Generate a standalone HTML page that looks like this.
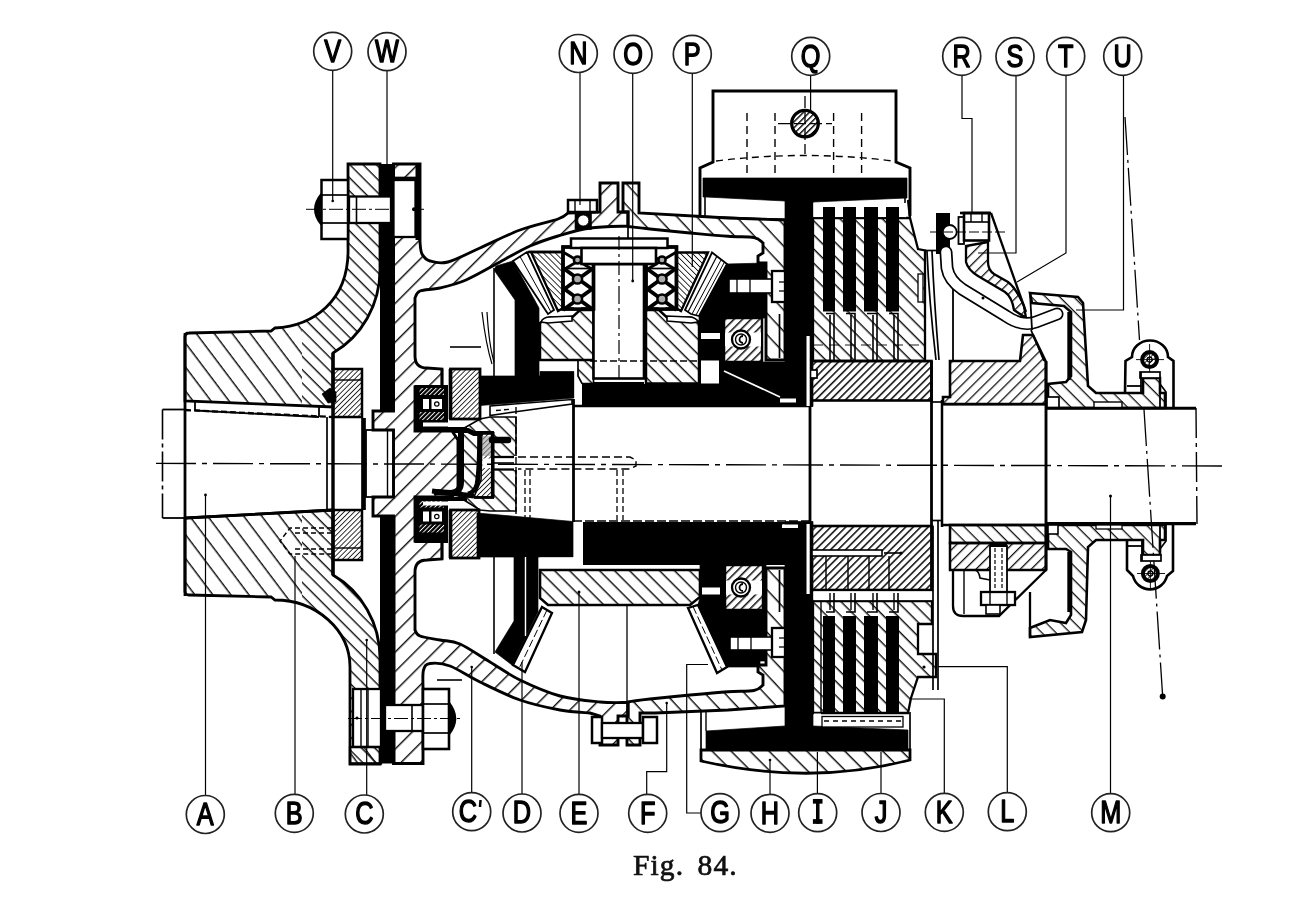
<!DOCTYPE html>
<html><head><meta charset="utf-8"><title>Fig. 84</title>
<style>
html,body{margin:0;padding:0;background:#fff;}
body{width:1290px;height:900px;overflow:hidden;font-family:"Liberation Sans",sans-serif;}
svg{display:block;filter:blur(0.6px);}
.lb{font-family:"Liberation Sans",sans-serif;font-weight:normal;font-size:32px;text-anchor:middle;fill:#000;stroke:#000;stroke-width:1.5px;stroke-linejoin:round;}
.cap{font-family:"Liberation Serif",serif;font-weight:normal;font-size:29.5px;fill:#111;stroke:#111;stroke-width:0.7px;letter-spacing:1.1px;}
</style></head><body>
<svg width="1290" height="900" viewBox="0 0 1290 900">
<defs><pattern id="hA" patternUnits="userSpaceOnUse" width="14.4" height="14.4" patternTransform="rotate(53)"><line x1="0" y1="0" x2="14.4" y2="0" stroke="#111" stroke-width="2.9"/></pattern><pattern id="hC" patternUnits="userSpaceOnUse" width="13.7" height="13.7" patternTransform="rotate(-45)"><line x1="0" y1="0" x2="13.7" y2="0" stroke="#111" stroke-width="2.9"/></pattern><pattern id="hF" patternUnits="userSpaceOnUse" width="14.5" height="14.5" patternTransform="rotate(47)"><line x1="0" y1="0" x2="14.5" y2="0" stroke="#111" stroke-width="2.9"/></pattern><pattern id="hf" patternUnits="userSpaceOnUse" width="3.6" height="3.6" patternTransform="rotate(-45)"><line x1="0" y1="0" x2="3.6" y2="0" stroke="#111" stroke-width="1.7"/></pattern><pattern id="hg" patternUnits="userSpaceOnUse" width="4.2" height="4.2" patternTransform="rotate(45)"><line x1="0" y1="0" x2="4.2" y2="0" stroke="#111" stroke-width="1.7"/></pattern><pattern id="hP" patternUnits="userSpaceOnUse" width="10" height="10" patternTransform="rotate(45)"><line x1="0" y1="0" x2="10" y2="0" stroke="#111" stroke-width="2.9"/></pattern><pattern id="hI" patternUnits="userSpaceOnUse" width="5.3" height="5.3" patternTransform="rotate(-45)"><line x1="0" y1="0" x2="5.3" y2="0" stroke="#111" stroke-width="3.1"/></pattern><pattern id="hE" patternUnits="userSpaceOnUse" width="10.6" height="10.6" patternTransform="rotate(45)"><line x1="0" y1="0" x2="10.6" y2="0" stroke="#111" stroke-width="2.9"/></pattern><pattern id="hH" patternUnits="userSpaceOnUse" width="13.4" height="13.4" patternTransform="rotate(45)"><line x1="0" y1="0" x2="13.4" y2="0" stroke="#111" stroke-width="2.9"/></pattern><pattern id="hU" patternUnits="userSpaceOnUse" width="10" height="10" patternTransform="rotate(45)"><line x1="0" y1="0" x2="10" y2="0" stroke="#111" stroke-width="2.6"/></pattern><pattern id="hR" patternUnits="userSpaceOnUse" width="7.8" height="7.8" patternTransform="rotate(-45)"><line x1="0" y1="0" x2="7.8" y2="0" stroke="#111" stroke-width="2.6"/></pattern><pattern id="hfw" patternUnits="userSpaceOnUse" width="3.2" height="3.2" patternTransform="rotate(-45)"><line x1="0" y1="0" x2="3.2" y2="0" stroke="#fff" stroke-width="1.9"/></pattern><pattern id="hgd" patternUnits="userSpaceOnUse" width="3.4" height="3.4" patternTransform="rotate(45)"><line x1="0" y1="0" x2="3.4" y2="0" stroke="#111" stroke-width="2.6"/></pattern><pattern id="hIb" patternUnits="userSpaceOnUse" width="6" height="6" patternTransform="rotate(-45)"><line x1="0" y1="0" x2="6" y2="0" stroke="#111" stroke-width="3.1"/></pattern><pattern id="hgx" patternUnits="userSpaceOnUse" width="3.4" height="3.4" patternTransform="rotate(-45)"><line x1="0" y1="0" x2="3.4" y2="0" stroke="#111" stroke-width="1.4"/></pattern><pattern id="hQ" patternUnits="userSpaceOnUse" width="4.2" height="4.2" patternTransform="rotate(-45)"><line x1="0" y1="0" x2="4.2" y2="0" stroke="#111" stroke-width="2.9"/></pattern><pattern id="hA2" patternUnits="userSpaceOnUse" width="9.4" height="9.4" patternTransform="rotate(45)"><line x1="0" y1="0" x2="9.4" y2="0" stroke="#111" stroke-width="2.8"/></pattern></defs>
<rect width="1290" height="900" fill="#fff"/>
<clipPath id="cpB"><rect x="150" y="300" width="152" height="320"/></clipPath>
<clipPath id="cpF"><path d="M302,300 H400 V620 H302 Z M300,150 H400 V300 H300 Z M300,620 H400 V780 H300 Z"/></clipPath>
<path d="M185,401 L185,337 Q185,333 189,333 L271,331 L275,328 C312,326 350,302 348,246 L348,164 L380,164 L380,270 A90,95 0 0 1 333,353 L333,407 Z" fill="url(#hA)" clip-path="url(#cpB)"/>
<path d="M185,401 L185,337 Q185,333 189,333 L271,331 L275,328 C312,326 350,302 348,246 L348,164 L380,164 L380,270 A90,95 0 0 1 333,353 L333,407 Z" fill="url(#hA2)" clip-path="url(#cpF)"/>
<path d="M185,401 L185,337 Q185,333 189,333 L271,331 L275,328 C312,326 350,302 348,246 L348,164 L380,164 L380,270 A90,95 0 0 1 333,353 L333,407 Z" fill="none" stroke="#000" stroke-width="2.8" />
<path d="M185,518 L185,591 Q185,595 189,595 L271,597 L275,600 A75,67 0 0 1 350,667 L350,764 L380,764 L380,658 A90,95 0 0 0 333,575 L333,510 Z" fill="url(#hA)" clip-path="url(#cpB)"/>
<path d="M185,518 L185,591 Q185,595 189,595 L271,597 L275,600 A75,67 0 0 1 350,667 L350,764 L380,764 L380,658 A90,95 0 0 0 333,575 L333,510 Z" fill="url(#hA2)" clip-path="url(#cpF)"/>
<path d="M185,518 L185,591 Q185,595 189,595 L271,597 L275,600 A75,67 0 0 1 350,667 L350,764 L380,764 L380,658 A90,95 0 0 0 333,575 L333,510 Z" fill="none" stroke="#000" stroke-width="2.8" />
<rect x="380" y="164" width="15" height="247" fill="#000"/>
<rect x="380" y="516" width="15.5" height="247.5" fill="#000"/>
<line x1="162.5" y1="409.5" x2="162.5" y2="518" stroke="#000" stroke-width="1.6" stroke-dasharray="30 4 4 4"/>
<line x1="162.5" y1="409.5" x2="185" y2="409.5" stroke="#000" stroke-width="1.8" />
<line x1="162.5" y1="518" x2="185" y2="518" stroke="#000" stroke-width="1.8" />
<line x1="185" y1="333" x2="185" y2="596" stroke="#000" stroke-width="2.8" />
<line x1="185" y1="410" x2="332" y2="417" stroke="#000" stroke-width="2.3" stroke-dasharray="6 3"/>
<line x1="195" y1="410.5" x2="319" y2="417" stroke="#000" stroke-width="1.8" />
<line x1="195" y1="402" x2="195" y2="410.5" stroke="#000" stroke-width="1.8" />
<line x1="319" y1="407" x2="319" y2="417" stroke="#000" stroke-width="1.8" />
<line x1="185" y1="518" x2="333" y2="510" stroke="#000" stroke-width="2.8" />
<path d="M322,394 L330,388 L336,392 L336,402 L328,403 Z" fill="#000" stroke="#000" stroke-width="0.7" />
<rect x="333" y="369" width="29" height="48" fill="url(#hf)" stroke="#000" stroke-width="2.5" />
<line x1="333" y1="380" x2="362" y2="380" stroke="#000" stroke-width="1.4" />
<rect x="333" y="510" width="29" height="50" fill="url(#hf)" stroke="#000" stroke-width="2.5" />
<line x1="333" y1="548" x2="362" y2="548" stroke="#000" stroke-width="1.4" />
<line x1="333" y1="353" x2="333" y2="575" stroke="#000" stroke-width="3.4" />
<line x1="327" y1="417" x2="327" y2="510" stroke="#000" stroke-width="1.7" />
<line x1="363.5" y1="418" x2="363.5" y2="510" stroke="#000" stroke-width="4.7" />
<rect x="366" y="430" width="27.5" height="67" fill="#fff" stroke="#000" stroke-width="1.8" />
<line x1="387.5" y1="430" x2="387.5" y2="497" stroke="#000" stroke-width="1.4" />
<polyline points="332,528 290,528 280,541 290,554 332,554" fill="none" stroke="#000" stroke-width="1.4" stroke-dasharray="5 3"/>
<polyline points="332,533 292,533" fill="none" stroke="#000" stroke-width="1.3" stroke-dasharray="5 3"/>
<polyline points="332,549 292,549" fill="none" stroke="#000" stroke-width="1.3" stroke-dasharray="5 3"/>
<rect x="321.5" y="180" width="26.5" height="59" fill="#fff" stroke="#000" stroke-width="2.5" />
<line x1="321.5" y1="195" x2="348" y2="195" stroke="#000" stroke-width="1.7" />
<line x1="321.5" y1="223" x2="348" y2="223" stroke="#000" stroke-width="1.7" />
<path d="M321.5,194 Q309,209.3 321.5,224.5 Q317.5,209.3 321.5,194 Z" fill="#000" stroke="#000" stroke-width="2.5" />
<rect x="349" y="196.5" width="42" height="26.5" fill="#fff" stroke="#000" stroke-width="2.3" />
<line x1="356.5" y1="196.5" x2="356.5" y2="223" stroke="#000" stroke-width="1.6" />
<line x1="306" y1="209.3" x2="424" y2="209.3" stroke="#000" stroke-width="1" stroke-dasharray="14 3 3 3"/>
<rect x="353" y="689" width="28" height="58" fill="#fff" stroke="#000" stroke-width="2.3" />
<line x1="361" y1="689" x2="361" y2="747" stroke="#000" stroke-width="1.4" />
<line x1="368" y1="689" x2="368" y2="747" stroke="#000" stroke-width="1.4" />
<rect x="350" y="747" width="31" height="16.5" fill="url(#hA)" stroke="#000" stroke-width="2.3" />
<circle cx="357" cy="718" r="1.6" fill="#000" stroke="#000" stroke-width="0"/>
<path d="M393.5,164 L420,164 L420,242  C420.3,244 420.3,250.8 422,254 C423.7,257.2 425.7,259.7 430,261 C434.3,262.3 439.7,264.2 448,262 C456.3,259.8 468,253.3 480,248 C492,242.7 507,234.8 520,230 C533,225.2 550,221.8 558,219 C566,216.2 566.3,214 568,213 L600,212 L600,183 L618,183 L618,212 L628,212 L628,226  C621.7,226.3 601.7,226.3 590,228 C578.3,229.7 568,233 558,236 C548,239 539.7,241.7 530,246 C520.3,250.3 510.7,256.3 500,262 C489.3,267.7 476,275.7 466,280 C456,284.3 447.7,286.2 440,288 C432.3,289.8 424.2,289.3 420,291 C415.8,292.7 415.8,296.8 415,298 L415,356 Q415,368 427,368 L442,369 L442,387 L415,387 L415,431 L452,431 L458,440 L458,488 L452,497 L415,497 L415,541 L442,541 L442,559 L427,560 Q415,560 415,572 L415,630  C415.8,631 415.8,634.3 420,636 C424.2,637.7 433.3,638.7 440,640 C446.7,641.3 451.7,640.3 460,644 C468.3,647.7 480,656 490,662 C500,668 508.3,674.3 520,680 C531.7,685.7 546.7,692.3 560,696 C573.3,699.7 588.7,700.9 600,702 C611.3,703.1 623.3,702.4 628,702.5 L628,716 L618,716 L618,745 L600,745 L600,716  L590,713 C585,712.5 571.7,712.2 560,710 C548.3,707.8 533.3,704.7 520,700 C506.7,695.3 491.7,687.7 480,682 C468.3,676.3 458.3,669.1 450,666 C441.7,662.9 434.4,662.8 430,663.5 C425.6,664.2 424.7,665.9 423.5,670 C422.3,674.1 423.1,685 423,688 L423,690 L423,763.5 L393.5,763.5 L393.5,516 L373,516 L373,497 L393.5,497 L393.5,430 L373,430 L373,411 L393.5,411 Z" fill="url(#hC)" stroke="#000" stroke-width="2.9" />
<rect x="393.5" y="180" width="22" height="57" fill="#fff" stroke="#000" stroke-width="2.3" />
<line x1="417.5" y1="164" x2="417.5" y2="240" stroke="#000" stroke-width="4" />
<line x1="393.5" y1="178.5" x2="417" y2="178.5" stroke="#000" stroke-width="3.7" />
<circle cx="414" cy="209.3" r="2" fill="#000" stroke="#000" stroke-width="0"/>
<rect x="385" y="705" width="38" height="26" fill="#fff" stroke="#000" stroke-width="2.3" />
<line x1="412" y1="705" x2="412" y2="731" stroke="#000" stroke-width="1.6" />
<line x1="393.5" y1="731" x2="423" y2="731" stroke="#000" stroke-width="1.7" />
<rect x="423" y="689" width="26" height="60" fill="#fff" stroke="#000" stroke-width="2.6" />
<line x1="423" y1="704" x2="449" y2="704" stroke="#000" stroke-width="1.7" />
<line x1="423" y1="733" x2="449" y2="733" stroke="#000" stroke-width="1.7" />
<path d="M449,703 Q461,718.5 449,734 Q453,718.5 449,703 Z" fill="#000" stroke="#000" stroke-width="2.5" />
<line x1="348" y1="718.5" x2="462" y2="718.5" stroke="#000" stroke-width="1" stroke-dasharray="14 3 3 3"/>
<path d="M623,183 L639,183 L639,213 L728,218 L785,220 L785,360 L766,360 L766,263 L758,263 L758,256 L763,253 L763,243  C761.5,242.1 759.8,238.6 754,237.5 C748.2,236.4 738.7,237.1 728,236.3 C717.3,235.6 703,234.2 690,233 C677,231.8 660.3,230.1 650,229 C639.7,227.9 631.7,226.9 628,226.5 L628,212 L623,212 Z" fill="url(#hF)" stroke="#000" stroke-width="2.9" />
<path d="M628,716 L628,702  C631.7,701.1 639.7,700.1 650,699 C660.3,697.9 677,696.2 690,695 C703,693.8 717.3,692.5 728,691.7 C738.7,691 748.2,691.6 754,690.5 C759.8,689.4 761.5,685.9 763,685 L763,675 L758,672 L758,665 L766,665 L766,568 L785,568 L785,706 L728,710 L655,713 L640,713 L640,745 L627,745 L627,716 Z" fill="url(#hF)" stroke="#000" stroke-width="2.9" />
<rect x="568" y="200" width="29" height="12" fill="#fff" stroke="#000" stroke-width="2.5" />
<line x1="575" y1="200" x2="575" y2="212" stroke="#000" stroke-width="1.4" />
<line x1="590" y1="200" x2="590" y2="212" stroke="#000" stroke-width="1.4" />
<rect x="575.5" y="213" width="15.5" height="16" fill="#000" stroke="#000" stroke-width="1.6" />
<circle cx="583.3" cy="220.5" r="5.6" fill="#fff" stroke="#000" stroke-width="1"/>
<line x1="628" y1="226" x2="628" y2="239" stroke="#000" stroke-width="1.7" />
<rect x="592" y="717" width="10" height="26" fill="#fff" stroke="#000" stroke-width="2.5" />
<rect x="602" y="723" width="41" height="15" fill="#fff" stroke="#000" stroke-width="2.3" />
<rect x="643" y="717" width="14" height="26" fill="#fff" stroke="#000" stroke-width="2.5" />
<line x1="627" y1="606" x2="627" y2="714" stroke="#000" stroke-width="1.3" />
<line x1="437" y1="680" x2="462" y2="680" stroke="#000" stroke-width="1.6" />
<line x1="450" y1="347" x2="481" y2="347" stroke="#000" stroke-width="1.6" />
<rect x="414.5" y="385" width="33.5" height="45.5" fill="#000"/>
<rect x="419.5" y="388" width="24.5" height="7" fill="url(#hfw)"/>
<rect x="419.5" y="412" width="24.5" height="8" fill="url(#hfw)"/>
<rect x="423" y="399" width="6" height="10" fill="#fff"/>
<rect x="431.5" y="399" width="10.5" height="10" fill="#fff"/>
<circle cx="436.8" cy="404" r="2.2" fill="none" stroke="#000" stroke-width="1.2"/>
<rect x="414.5" y="497.5" width="33.5" height="45.5" fill="#000"/>
<rect x="419.5" y="500.5" width="24.5" height="7" fill="url(#hfw)"/>
<rect x="419.5" y="524.5" width="24.5" height="8" fill="url(#hfw)"/>
<rect x="423" y="511.5" width="6" height="10" fill="#fff"/>
<rect x="431.5" y="511.5" width="10.5" height="10" fill="#fff"/>
<circle cx="436.8" cy="516.5" r="2.2" fill="none" stroke="#000" stroke-width="1.2"/>
<rect x="414.5" y="427" width="52.5" height="4" fill="#000"/>
<rect x="414.5" y="497" width="52.5" height="4" fill="#000"/>
<rect x="423" y="422.5" width="36" height="4" fill="#fff"/>
<rect x="423" y="501.5" width="36" height="4" fill="#fff"/>
<line x1="442" y1="369" x2="442" y2="387" stroke="#000" stroke-width="2.5" />
<line x1="442" y1="541" x2="442" y2="559" stroke="#000" stroke-width="2.5" />
<rect x="450.5" y="369" width="29.5" height="50" fill="url(#hf)" stroke="#000" stroke-width="2.8" />
<line x1="450.5" y1="369" x2="450.5" y2="419" stroke="#000" stroke-width="3.7" />
<rect x="450.5" y="510" width="28.5" height="48" fill="url(#hf)" stroke="#000" stroke-width="2.8" />
<line x1="450.5" y1="510" x2="450.5" y2="558" stroke="#000" stroke-width="3.7" />
<polygon points="459,431 480,419 490,417 516,417 516,511 490,511 480,510 459,497" fill="url(#hE)" stroke="#000" stroke-width="1.6" />
<rect x="494" y="456" width="23" height="14" fill="#fff"/>
<path d="M461,431 L461,482 Q461,492 451,493 L434,492" fill="none" stroke="#000" stroke-width="6" />
<path d="M452,430.5 L468,430.5 L474,433.5 L494,433.5" fill="none" stroke="#000" stroke-width="5" />
<path d="M432,491 L474,496" fill="none" stroke="#000" stroke-width="5" />
<path d="M479.5,435 Q479.5,470 477,484 Q475,492 468,494" fill="none" stroke="#000" stroke-width="4.6" />
<polygon points="482,434 492.5,434 492.5,497 474,497 481,480" fill="#fff" stroke="#000" stroke-width="0.1" />
<polygon points="482,434 492.5,434 492.5,497 474,497 481,480" fill="url(#hf)" stroke="#000" stroke-width="1.6" />
<rect x="482" y="436" width="10" height="20" fill="#999" opacity="0.55"/>
<line x1="492.7" y1="432" x2="492.7" y2="498" stroke="#000" stroke-width="3.7" />
<line x1="474" y1="497.5" x2="494" y2="497.5" stroke="#000" stroke-width="2.8" />
<path d="M492,440 L508,440" fill="none" stroke="#000" stroke-width="6.5" stroke-linecap="round"/>
<rect x="482.5" y="458.5" width="8.5" height="9.5" fill="#fff"/>
<line x1="494" y1="457" x2="514" y2="457" stroke="#000" stroke-width="2.3" />
<line x1="494" y1="463" x2="514" y2="463" stroke="#000" stroke-width="1.6" />
<line x1="494" y1="469.5" x2="514" y2="469.5" stroke="#000" stroke-width="2.3" />
<polygon points="480,376 540,376 540,371.5 574,371.5 574,398 480,405.5" fill="#000" stroke="#000" stroke-width="0.7" />
<polygon points="494,270 496,266 513,261 539,308 539,376 515,376 515,300" fill="#000" stroke="#000" stroke-width="0.7" />
<line x1="494" y1="268" x2="494" y2="376" stroke="#000" stroke-width="1.6" />
<path d="M482,312 Q486,345 492,364" fill="none" stroke="#000" stroke-width="1.2" />
<path d="M487,312 Q489,345 494,362" fill="none" stroke="#000" stroke-width="1.2" />
<polygon points="490,406 514,404 572,399.5 572,404 514,412 490,415.5" fill="#fff" stroke="#000" stroke-width="1.6" />
<line x1="496" y1="410.5" x2="512" y2="409" stroke="#000" stroke-width="1.3" stroke-dasharray="5 3"/>
<rect x="574.5" y="371" width="7" height="34" fill="#fff"/>
<polygon points="477,513 573,521.5 573,557 477,557" fill="#000" stroke="#000" stroke-width="0.7" />
<polygon points="514,555 538,555 538,612 512,665 495,652 514,621" fill="#000" stroke="#000" stroke-width="0.7" />
<line x1="525.5" y1="557" x2="525.5" y2="640" stroke="#000" stroke-width="1.6" stroke="#fff"/>
<line x1="525.5" y1="557" x2="525.5" y2="636" stroke="#fff" stroke-width="1.4"/>
<line x1="494" y1="553" x2="494" y2="654" stroke="#000" stroke-width="1.6" />
<rect x="540" y="557.5" width="37" height="9.5" fill="#fff"/>
<rect x="575.5" y="523" width="7" height="40" fill="#fff"/>
<line x1="516" y1="407" x2="516" y2="521" stroke="#000" stroke-width="1.4" stroke-dasharray="7 3"/>
<line x1="573.5" y1="399" x2="573.5" y2="522" stroke="#000" stroke-width="2.8" />
<line x1="573" y1="406" x2="810" y2="406" stroke="#000" stroke-width="2.5" />
<line x1="573" y1="521" x2="810" y2="521" stroke="#000" stroke-width="1.7" stroke-dasharray="9 3"/>
<polyline points="518,457 630,457 636,460 636,466 630,469 518,469" fill="none" stroke="#000" stroke-width="1.4" stroke-dasharray="8 4"/>
<line x1="525" y1="470" x2="525" y2="520" stroke="#000" stroke-width="1.3" stroke-dasharray="6 3"/>
<line x1="530" y1="470" x2="530" y2="520" stroke="#000" stroke-width="1.3" stroke-dasharray="6 3"/>
<line x1="617" y1="470" x2="617" y2="520" stroke="#000" stroke-width="1.3" stroke-dasharray="6 3"/>
<line x1="623" y1="470" x2="623" y2="520" stroke="#000" stroke-width="1.3" stroke-dasharray="6 3"/>
<rect x="582" y="384" width="231" height="22.5" fill="#000"/>
<rect x="583" y="522" width="230" height="43" fill="#000"/>
<rect x="783" y="524.5" width="14" height="3.5" fill="#fff"/>
<polygon points="540,323 549,317.5 572,317.5 580,310 593.5,310 593.5,360 540,360" fill="url(#hE)" stroke="#000" stroke-width="2.5" />
<polygon points="578,360 593.5,360 593.5,383.5 582,383.5 578,376" fill="url(#hE)" stroke="#000" stroke-width="1.7" />
<polygon points="646,310 659,310 667,317.5 691,317.5 699,322 699,383.5 646,383.5" fill="url(#hE)" stroke="#000" stroke-width="2.5" />
<polygon points="540,570 700,570 700,597 690,605 548,605 540,598" fill="url(#hE)" stroke="#000" stroke-width="2.6" />
<rect x="593.5" y="264" width="50.5" height="114.5" fill="#fff" stroke="#000" stroke-width="2.6" />
<line x1="593.5" y1="383" x2="644" y2="383" stroke="#000" stroke-width="1.8" />
<line x1="619" y1="290" x2="619" y2="378" stroke="#000" stroke-width="1.2" stroke-dasharray="14 4 3 4"/>
<line x1="590" y1="361" x2="700" y2="361" stroke="#000" stroke-width="1.3" stroke-dasharray="7 3"/>
<rect x="563" y="247" width="30.5" height="62" fill="#fff" stroke="#000" stroke-width="3.4" />
<line x1="563" y1="268" x2="593.5" y2="290" stroke="#000" stroke-width="4" />
<line x1="563" y1="290" x2="593.5" y2="268" stroke="#000" stroke-width="4" />
<line x1="563" y1="288" x2="593.5" y2="310" stroke="#000" stroke-width="4" />
<line x1="563" y1="310" x2="593.5" y2="288" stroke="#000" stroke-width="4" />
<line x1="563" y1="252" x2="593.5" y2="270" stroke="#000" stroke-width="2.8" />
<line x1="563" y1="270" x2="593.5" y2="252" stroke="#000" stroke-width="2.8" />
<circle cx="577.5" cy="260" r="3.6" fill="#aaa" stroke="#000" stroke-width="2.5"/>
<circle cx="577.5" cy="279" r="4.6" fill="#aaa" stroke="#000" stroke-width="2.5"/>
<circle cx="577.5" cy="299" r="4.6" fill="#aaa" stroke="#000" stroke-width="2.5"/>
<rect x="574" y="286" width="7" height="6" fill="#fff"/>
<rect x="574" y="305" width="7" height="3" fill="#fff"/>
<line x1="563" y1="268.5" x2="593.5" y2="268.5" stroke="#000" stroke-width="1.7" />
<rect x="563" y="247" width="30.5" height="62" fill="none" stroke="#000" stroke-width="3.4" />
<rect x="646" y="247" width="30.5" height="62" fill="#fff" stroke="#000" stroke-width="3.4" />
<line x1="646" y1="268" x2="676.5" y2="290" stroke="#000" stroke-width="4" />
<line x1="646" y1="290" x2="676.5" y2="268" stroke="#000" stroke-width="4" />
<line x1="646" y1="288" x2="676.5" y2="310" stroke="#000" stroke-width="4" />
<line x1="646" y1="310" x2="676.5" y2="288" stroke="#000" stroke-width="4" />
<line x1="646" y1="252" x2="676.5" y2="270" stroke="#000" stroke-width="2.8" />
<line x1="646" y1="270" x2="676.5" y2="252" stroke="#000" stroke-width="2.8" />
<circle cx="662" cy="260" r="3.6" fill="#aaa" stroke="#000" stroke-width="2.5"/>
<circle cx="662" cy="279" r="4.6" fill="#aaa" stroke="#000" stroke-width="2.5"/>
<circle cx="662" cy="299" r="4.6" fill="#aaa" stroke="#000" stroke-width="2.5"/>
<rect x="658.5" y="286" width="7" height="6" fill="#fff"/>
<rect x="658.5" y="305" width="7" height="3" fill="#fff"/>
<line x1="646" y1="268.5" x2="676.5" y2="268.5" stroke="#000" stroke-width="1.7" />
<rect x="646" y="247" width="30.5" height="62" fill="none" stroke="#000" stroke-width="3.4" />
<rect x="571" y="238.5" width="96.5" height="9.5" fill="#fff" stroke="#000" stroke-width="2.5" />
<rect x="581.5" y="248" width="74.5" height="16" fill="#fff" stroke="#000" stroke-width="2.6" />
<line x1="619" y1="236" x2="619" y2="290" stroke="#000" stroke-width="1.2" stroke-dasharray="14 4 3 4"/>
<polygon points="531,252 563,252 563,308 558,311" fill="url(#hg)" stroke="#000" stroke-width="2.3" />
<polygon points="513,261 527,252 554,310 548,314" fill="#fff" stroke="#000" stroke-width="1.8" />
<line x1="520" y1="256.5" x2="551" y2="312" stroke="#000" stroke-width="1" />
<polygon points="708,252.5 676,252.5 676,308 681,311" fill="url(#hg)" stroke="#000" stroke-width="2.3" />
<polygon points="727,264 712,252.5 685,310 691,314 699,316" fill="#fff" stroke="#000" stroke-width="1.8" />
<line x1="717" y1="256" x2="688" y2="312" stroke="#000" stroke-width="1.2" />
<line x1="721" y1="260" x2="692" y2="314" stroke="#000" stroke-width="1" />
<line x1="724.5" y1="262" x2="696" y2="315" stroke="#000" stroke-width="1" />
<line x1="528" y1="252" x2="563" y2="252" stroke="#000" stroke-width="2.3" />
<path d="M541,322 Q543,317 550,317 L572,316 L572,321 L548,323 Z" fill="#fff" stroke="#000" stroke-width="1.6" />
<path d="M698,322 Q696,317 689,317 L667,316 L667,321 L691,323 Z" fill="#fff" stroke="#000" stroke-width="1.6" />
<polygon points="727,264 766,263 766,318 724,318 724,362 785,362 785,384 699,384 699,316" fill="#000" stroke="#000" stroke-width="0.7" />
<rect x="701" y="333" width="19" height="6" fill="#fff"/>
<rect x="701" y="360.5" width="18" height="23" fill="#fff"/>
<line x1="720" y1="344" x2="720" y2="384" stroke="#000" stroke-width="1.6" />
<rect x="729" y="279" width="43" height="14" fill="#fff" stroke="#000" stroke-width="1.6" />
<line x1="737" y1="279" x2="737" y2="293" stroke="#000" stroke-width="1.3" />
<line x1="750" y1="279" x2="750" y2="293" stroke="#000" stroke-width="1.3" />
<line x1="724" y1="371" x2="780" y2="397" stroke="#fff" stroke-width="1.6"/>
<rect x="724" y="318" width="38" height="44" fill="#fff"/>
<rect x="724" y="318" width="38" height="44" fill="url(#hIb)" stroke="#000" stroke-width="2.5" />
<rect x="725" y="332.5" width="36" height="14" fill="#fff"/>
<circle cx="741" cy="339.5" r="9" fill="#fff" stroke="#000" stroke-width="2.3"/>
<circle cx="741" cy="339.5" r="5.5" fill="none" stroke="#000" stroke-width="1.4"/>
<path d="M743,336 a3.5,3.5 0 0 0 0,7" fill="none" stroke="#000" stroke-width="1.8" />
<line x1="779.5" y1="314" x2="779.5" y2="358" stroke="#000" stroke-width="1.7" />
<rect x="772" y="271" width="13" height="31" fill="#fff" stroke="#000" stroke-width="2.3" />
<line x1="779" y1="282" x2="785" y2="282" stroke="#000" stroke-width="1.3" />
<line x1="779" y1="291" x2="785" y2="291" stroke="#000" stroke-width="1.3" />
<polygon points="542,607 552,613 525,672 513,665" fill="#fff" stroke="#000" stroke-width="2.3" />
<line x1="547" y1="610" x2="519" y2="668.5" stroke="#000" stroke-width="1" stroke-dasharray="8 3"/>
<polygon points="688,608 698,605 727,667 717,673" fill="#fff" stroke="#000" stroke-width="2.3" />
<line x1="693" y1="606.5" x2="722" y2="670" stroke="#000" stroke-width="1" stroke-dasharray="8 3"/>
<polygon points="700,565 766,565 766,661 760,661 760,667 727,667 698,605 700,597" fill="#000" stroke="#000" stroke-width="0.7" />
<rect x="702" y="587.5" width="18" height="7" fill="#fff"/>
<rect x="725" y="565" width="38" height="45" fill="#fff"/>
<rect x="725" y="565" width="38" height="45" fill="url(#hIb)" stroke="#000" stroke-width="2.5" />
<rect x="726" y="580.5" width="36" height="14" fill="#fff"/>
<circle cx="741" cy="587.5" r="9" fill="#fff" stroke="#000" stroke-width="2.3"/>
<circle cx="741" cy="587.5" r="5.5" fill="none" stroke="#000" stroke-width="1.4"/>
<path d="M743,584 a3.5,3.5 0 0 0 0,7" fill="none" stroke="#000" stroke-width="1.8" />
<rect x="730" y="637" width="43" height="13" fill="#fff" stroke="#000" stroke-width="1.6" />
<line x1="738" y1="637" x2="738" y2="650" stroke="#000" stroke-width="1.3" />
<line x1="751" y1="637" x2="751" y2="650" stroke="#000" stroke-width="1.3" />
<rect x="772" y="628" width="13" height="29" fill="#fff" stroke="#000" stroke-width="2.3" />
<line x1="779" y1="638" x2="785" y2="638" stroke="#000" stroke-width="1.3" />
<line x1="779" y1="647" x2="785" y2="647" stroke="#000" stroke-width="1.3" />
<line x1="779.5" y1="570" x2="779.5" y2="612" stroke="#000" stroke-width="1.7" />
<polyline points="700,216 700,168 713,162 713,91 896,91 896,162 910,168 910,216" fill="none" stroke="#000" stroke-width="2.9" />
<line x1="705" y1="178" x2="705" y2="216" stroke="#000" stroke-width="1.6" />
<line x1="905" y1="178" x2="905" y2="216" stroke="#000" stroke-width="1.6" />
<path d="M716,161 Q805,150 893,161" fill="none" stroke="#000" stroke-width="1.4" stroke-dasharray="7 5"/>
<line x1="747" y1="113" x2="747" y2="178" stroke="#000" stroke-width="1.4" stroke-dasharray="8 5"/>
<line x1="775" y1="113" x2="775" y2="178" stroke="#000" stroke-width="1.4" stroke-dasharray="8 5"/>
<line x1="833.6" y1="113" x2="833.6" y2="178" stroke="#000" stroke-width="1.4" stroke-dasharray="8 5"/>
<line x1="861.6" y1="113" x2="861.6" y2="178" stroke="#000" stroke-width="1.4" stroke-dasharray="8 5"/>
<line x1="778" y1="123.6" x2="832" y2="123.6" stroke="#000" stroke-width="1.3" stroke-dasharray="12 4"/>
<line x1="805" y1="96" x2="805" y2="154" stroke="#000" stroke-width="1.3" stroke-dasharray="12 4"/>
<circle cx="805" cy="123.6" r="13.3" fill="url(#hQ)" stroke="#000" stroke-width="3.3"/>
<polygon points="703,178 907,178 907,198 813,202 813,406.5 785,406.5 785,201 706,197 703,197" fill="#000" stroke="#000" stroke-width="0.7" />
<polygon points="785,521.5 813,521.5 813,726 908,730 908,750 706,750 706,731 785,726" fill="#000" stroke="#000" stroke-width="0.7" />
<line x1="700" y1="216.5" x2="785" y2="219.5" stroke="#000" stroke-width="1.8" />
<line x1="701" y1="711" x2="701" y2="760" stroke="#000" stroke-width="1.7" />
<line x1="706" y1="711" x2="706" y2="731" stroke="#000" stroke-width="1.4" />
<line x1="910" y1="712" x2="910" y2="760" stroke="#000" stroke-width="1.7" />
<path d="M701,750 L910,750 L910,760 Q810,786 701,761 Z" fill="url(#hH)" stroke="#000" stroke-width="2.8" />
<polygon points="813,218 910,218 918,249 925,250.5 925,361 813,361" fill="url(#hP)" stroke="#000" stroke-width="2.3" />
<polyline points="908,200 910,218" fill="none" stroke="#000" stroke-width="2.3" />
<rect x="813.5" y="203" width="92.5" height="14.2" fill="#fff"/>
<line x1="813" y1="218" x2="905" y2="218" stroke="#000" stroke-width="1.6" />
<rect x="823" y="207" width="12" height="104.5" fill="#000"/>
<polyline points="826,313.5 834,313.5 834,360" fill="none" stroke="#000" stroke-width="1.6" />
<line x1="830" y1="315" x2="830" y2="360" stroke="#000" stroke-width="1.6" />
<rect x="843" y="207" width="13" height="104.5" fill="#000"/>
<polyline points="846,313.5 855,313.5 855,360" fill="none" stroke="#000" stroke-width="1.6" />
<line x1="851" y1="315" x2="851" y2="360" stroke="#000" stroke-width="1.6" />
<rect x="864" y="207" width="14" height="104.5" fill="#000"/>
<polyline points="867,313.5 877,313.5 877,360" fill="none" stroke="#000" stroke-width="1.6" />
<line x1="873" y1="315" x2="873" y2="360" stroke="#000" stroke-width="1.6" />
<rect x="886" y="207" width="13" height="104.5" fill="#000"/>
<polyline points="889,313.5 898,313.5 898,360" fill="none" stroke="#000" stroke-width="1.6" />
<line x1="894" y1="315" x2="894" y2="360" stroke="#000" stroke-width="1.6" />
<rect x="918" y="274" width="5" height="28" fill="#fff"/>
<rect x="918" y="274" width="5" height="28" fill="none" stroke="#000" stroke-width="1.3" />
<line x1="813" y1="345" x2="925" y2="345" stroke="#000" stroke-width="0.9" stroke-dasharray="10 6"/>
<path d="M927,251 Q929,300 936,360" fill="none" stroke="#000" stroke-width="1.7" />
<path d="M932,251 Q934,300 939,360" fill="none" stroke="#000" stroke-width="1.7" />
<line x1="925" y1="250.5" x2="938" y2="250.5" stroke="#000" stroke-width="1.7" />
<rect x="810" y="361" width="121.5" height="39.5" fill="url(#hI)" stroke="#000" stroke-width="2.6" />
<rect x="810" y="370" width="7" height="8" fill="#fff" stroke="#000" stroke-width="1.7" />
<rect x="810" y="526" width="122" height="64" fill="url(#hI)" stroke="#000" stroke-width="2.6" />
<rect x="812" y="550" width="70" height="6" fill="#fff" stroke="#000" stroke-width="1.6" />
<line x1="884" y1="553" x2="900" y2="553" stroke="#000" stroke-width="1.6" />
<circle cx="901" cy="553" r="1.6" fill="#000" stroke="#000" stroke-width="0"/>
<line x1="826" y1="556" x2="826" y2="590" stroke="#000" stroke-width="1.4" />
<line x1="848" y1="556" x2="848" y2="590" stroke="#000" stroke-width="1.4" />
<line x1="869" y1="556" x2="869" y2="590" stroke="#000" stroke-width="1.4" />
<line x1="889" y1="556" x2="889" y2="590" stroke="#000" stroke-width="1.4" />
<line x1="810" y1="400" x2="810" y2="526" stroke="#000" stroke-width="2.8" />
<polygon points="813,601 932,601 932,624 918,624 918,654 936,654 936,677 918,677 911,698 908,713 813,713" fill="url(#hP)" stroke="#000" stroke-width="2.3" />
<rect x="813.5" y="591.5" width="118.5" height="9" fill="#fff"/>
<line x1="813" y1="601" x2="932" y2="601" stroke="#000" stroke-width="1.6" />
<rect x="823" y="616" width="12" height="97" fill="#000"/>
<polyline points="826,612 834,612 834,593" fill="none" stroke="#000" stroke-width="1.6" />
<line x1="830" y1="610" x2="830" y2="593" stroke="#000" stroke-width="1.4" />
<rect x="822" y="592.5" width="6" height="7.5" fill="#fff"/>
<rect x="843" y="616" width="13" height="97" fill="#000"/>
<polyline points="846,612 855,612 855,593" fill="none" stroke="#000" stroke-width="1.6" />
<line x1="851" y1="610" x2="851" y2="593" stroke="#000" stroke-width="1.4" />
<rect x="842" y="592.5" width="7" height="7.5" fill="#fff"/>
<rect x="864" y="616" width="14" height="97" fill="#000"/>
<polyline points="867,612 877,612 877,593" fill="none" stroke="#000" stroke-width="1.6" />
<line x1="873" y1="610" x2="873" y2="593" stroke="#000" stroke-width="1.4" />
<rect x="863" y="592.5" width="8" height="7.5" fill="#fff"/>
<rect x="886" y="616" width="13" height="97" fill="#000"/>
<polyline points="889,612 898,612 898,593" fill="none" stroke="#000" stroke-width="1.6" />
<line x1="894" y1="610" x2="894" y2="593" stroke="#000" stroke-width="1.4" />
<rect x="885" y="592.5" width="7" height="7.5" fill="#fff"/>
<line x1="821" y1="601" x2="821" y2="713" stroke="#000" stroke-width="1.4" />
<circle cx="924" cy="667" r="1.6" fill="#000" stroke="#000" stroke-width="0"/>
<line x1="933" y1="526" x2="933" y2="690" stroke="#000" stroke-width="1.7" />
<line x1="938" y1="520" x2="938" y2="690" stroke="#000" stroke-width="1.7" />
<rect x="822" y="716.5" width="81" height="10.5" fill="#fff" stroke="#000" stroke-width="1.3" />
<line x1="824" y1="721" x2="901" y2="721" stroke="#000" stroke-width="1.3" stroke-dasharray="5 4"/>
<rect x="814" y="713.5" width="7" height="11.5" fill="#fff"/>
<rect x="782" y="524.5" width="16" height="3.5" fill="#fff"/>
<rect x="806.5" y="336" width="3.5" height="70" fill="#fff"/>
<rect x="806.5" y="524" width="3.5" height="70" fill="#fff"/>
<line x1="810.5" y1="336" x2="810.5" y2="406" stroke="#000" stroke-width="1.6" />
<line x1="810.5" y1="524" x2="810.5" y2="594" stroke="#000" stroke-width="1.6" />
<rect x="780" y="398.5" width="16" height="4" fill="#fff"/>
<line x1="156" y1="463.4" x2="1226" y2="466" stroke="#000" stroke-width="1.4" stroke-dasharray="40 6 5 6"/>
<line x1="931.5" y1="361" x2="931.5" y2="590" stroke="#000" stroke-width="2.8" />
<line x1="942" y1="400" x2="942" y2="527" stroke="#000" stroke-width="2.5" />
<line x1="932" y1="402" x2="942" y2="402" stroke="#000" stroke-width="1.7" />
<line x1="932" y1="520.5" x2="942" y2="520.5" stroke="#000" stroke-width="1.7" />
<line x1="942" y1="404.3" x2="1046" y2="404.3" stroke="#000" stroke-width="2.6" />
<line x1="942" y1="525" x2="1046" y2="525" stroke="#000" stroke-width="2.6" />
<line x1="1046" y1="361" x2="1046" y2="570" stroke="#000" stroke-width="2.9" />
<line x1="1046" y1="408.3" x2="1196" y2="408.3" stroke="#000" stroke-width="3.1" />
<line x1="1046" y1="523.6" x2="1196" y2="523.6" stroke="#000" stroke-width="3.1" />
<line x1="1196" y1="408" x2="1197" y2="524" stroke="#000" stroke-width="1.4" stroke-dasharray="30 5 4 5"/>
<polygon points="950,361 1020,361 1023,335 1033,335 1046,362 1046,404 943,404 943,397 950,397" fill="url(#hR)" stroke="#000" stroke-width="2.6" />
<line x1="953" y1="286" x2="953" y2="361" stroke="#000" stroke-width="1.8" />
<rect x="950" y="525" width="96" height="18" fill="url(#hU)" stroke="#000" stroke-width="2.5" />
<rect x="950" y="543" width="96" height="27" fill="url(#hR)" stroke="#000" stroke-width="2.5" />
<path d="M953,570 L953,606 Q953,616 963,616 L999,616 L1046,570" fill="none" stroke="#000" stroke-width="2.3" />
<line x1="964" y1="570" x2="964" y2="614" stroke="#000" stroke-width="1.4" />
<path d="M964,570 L975,570 Q979,571 980,578 L990,580" fill="none" stroke="#000" stroke-width="1.6" />
<rect x="990" y="546" width="17" height="46" fill="#fff" stroke="#000" stroke-width="1.8" />
<line x1="995" y1="548" x2="995" y2="590" stroke="#000" stroke-width="1.2" stroke-dasharray="4 2"/>
<line x1="1002" y1="548" x2="1002" y2="590" stroke="#000" stroke-width="1.2" stroke-dasharray="4 2"/>
<rect x="990" y="544" width="17" height="3" fill="#000"/>
<rect x="981" y="592" width="34" height="13" fill="#fff" stroke="#000" stroke-width="2.3" />
<line x1="990" y1="592" x2="990" y2="605" stroke="#000" stroke-width="1.4" />
<line x1="1007" y1="592" x2="1007" y2="605" stroke="#000" stroke-width="1.4" />
<rect x="986" y="605" width="14" height="9" fill="#fff" stroke="#000" stroke-width="1.6" />
<rect x="936" y="213" width="14" height="41" fill="#000"/>
<circle cx="949.7" cy="232" r="7" fill="#fff" stroke="#000" stroke-width="1.8"/>
<rect x="958.5" y="217" width="5.5" height="27" fill="#fff" stroke="#000" stroke-width="1.8" />
<rect x="964" y="213" width="25" height="27.5" fill="#fff" stroke="#000" stroke-width="2.6" />
<line x1="964" y1="222" x2="989" y2="222" stroke="#000" stroke-width="1.6" />
<line x1="971" y1="213" x2="971" y2="222" stroke="#000" stroke-width="1.4" />
<line x1="982" y1="213" x2="982" y2="222" stroke="#000" stroke-width="1.4" />
<line x1="930" y1="232" x2="1007" y2="232" stroke="#000" stroke-width="1" stroke-dasharray="10 3"/>
<path d="M966,246 L966,262 Q968,270 978,276 L1005,292 Q1012,297 1014,310 L1026,318 L1024,306 Q1016,288 1008,282 L994,274 Q988,270 988,262 L988,242 Z" fill="url(#hR)" stroke="#000" stroke-width="2.3" />
<path d="M946,252 L947,268 Q949,280 962,289 L1006,316 Q1022,327 1036,322 L1057,314" fill="none" stroke="#000" stroke-width="13" stroke-linecap="round"/>
<path d="M946,252 L947,268 Q949,280 962,289 L1006,316 Q1022,327 1036,322 L1057,314" fill="none" stroke="#fff" stroke-width="9.6" stroke-linecap="round"/>
<circle cx="983" cy="298" r="1.5" fill="#000" stroke="#000" stroke-width="0"/>
<line x1="991" y1="213" x2="1026" y2="312" stroke="#000" stroke-width="2.3" />
<line x1="1031" y1="330" x2="1044" y2="361" stroke="#000" stroke-width="1.8" />
<line x1="960" y1="213" x2="991" y2="213" stroke="#000" stroke-width="2.6" />
<polygon points="1030,293 1078,297 1083,303 1088,386 1096,393 1143,393 1143,378 1160,378 1160,393 1165,393 1165,408 1048,408 1048,384 1066,382 1071,376 1071,312 1064,306 1032,303" fill="url(#hU)" stroke="#000" stroke-width="2.6" />
<polyline points="1030,293 1032,330" fill="none" stroke="#000" stroke-width="1.8" />
<line x1="1069" y1="312" x2="1069" y2="380" stroke="#000" stroke-width="3.4" />
<rect x="1047" y="397" width="12" height="10.5" fill="#fff" stroke="#000" stroke-width="1.7" />
<rect x="1094" y="402" width="28" height="5.5" fill="#fff" stroke="#000" stroke-width="1.4" />
<path d="M1125,393 L1125.5,361 L1132,357 A18,16.5 0 0 1 1168,357 L1173.5,361 L1173.5,408" fill="none" stroke="#000" stroke-width="2.6" />
<circle cx="1149.6" cy="359.6" r="7.5" fill="url(#hf)" stroke="#000" stroke-width="4"/>
<circle cx="1149.6" cy="359.6" r="2.5" fill="none" stroke="#000" stroke-width="1.3"/>
<rect x="1140" y="372" width="20" height="6" fill="#fff" stroke="#000" stroke-width="1.7" />
<line x1="1160" y1="378" x2="1160" y2="408" stroke="#000" stroke-width="1.8" />
<polyline points="1160,384 1166,392 1166,408" fill="none" stroke="#000" stroke-width="1.7" />
<line x1="1127" y1="386" x2="1141" y2="386" stroke="#000" stroke-width="1.8" />
<line x1="1141" y1="372" x2="1141" y2="393" stroke="#000" stroke-width="1.8" />
<line x1="1136" y1="359.6" x2="1164" y2="359.6" stroke="#000" stroke-width="0.9" />
<line x1="1149.6" y1="344" x2="1149.6" y2="372" stroke="#000" stroke-width="0.9" />
<polygon points="1048,525 1165,525 1165,540 1160,540 1160,555 1143,555 1143,540 1096,540 1088,547 1086,620 1082,632 1030,637 1030,628 1050,620 1066,623 1071,615 1071,552 1066,549 1048,549" fill="url(#hU)" stroke="#000" stroke-width="2.6" />
<polyline points="1030,592 1030,637" fill="none" stroke="#000" stroke-width="2.3" />
<line x1="1069" y1="552" x2="1069" y2="612" stroke="#000" stroke-width="3.4" />
<rect x="1048" y="525" width="10" height="9" fill="#fff" stroke="#000" stroke-width="1.6" />
<rect x="1096" y="525" width="26" height="4" fill="#fff" stroke="#000" stroke-width="1.3" />
<path d="M1127,540 L1127,570 L1133,576 A17.5,17.5 0 0 0 1167,576 L1173,571 L1173,525" fill="none" stroke="#000" stroke-width="2.6" />
<circle cx="1150.4" cy="573.5" r="7.5" fill="url(#hf)" stroke="#000" stroke-width="4"/>
<circle cx="1150.4" cy="573.5" r="2.5" fill="none" stroke="#000" stroke-width="1.3"/>
<rect x="1141" y="555" width="20" height="6" fill="#fff" stroke="#000" stroke-width="1.7" />
<line x1="1160" y1="525" x2="1160" y2="555" stroke="#000" stroke-width="1.8" />
<polyline points="1160,549 1166,541 1166,525" fill="none" stroke="#000" stroke-width="1.7" />
<line x1="1128" y1="546" x2="1142" y2="546" stroke="#000" stroke-width="1.8" />
<line x1="1142" y1="540" x2="1142" y2="561" stroke="#000" stroke-width="1.8" />
<line x1="1137" y1="573.5" x2="1165" y2="573.5" stroke="#000" stroke-width="0.9" />
<line x1="1150.4" y1="561" x2="1150.4" y2="590" stroke="#000" stroke-width="0.9" />
<line x1="332.7" y1="70" x2="332.7" y2="201" stroke="#000" stroke-width="1.2" />
<circle cx="332.7" cy="201" r="1.3" fill="#000" stroke="#000" stroke-width="0"/>
<line x1="387" y1="70" x2="387" y2="166" stroke="#000" stroke-width="1.2" />
<line x1="580" y1="72" x2="580" y2="205" stroke="#000" stroke-width="1.2" />
<line x1="632.7" y1="73" x2="632.7" y2="281" stroke="#000" stroke-width="1.2" />
<circle cx="632.7" cy="281" r="1.4" fill="#000" stroke="#000" stroke-width="0"/>
<line x1="692.3" y1="73" x2="692.3" y2="267" stroke="#000" stroke-width="1.2" />
<line x1="810.6" y1="75" x2="810.6" y2="110" stroke="#000" stroke-width="1.2" />
<polyline points="962,75 962,118.5 972,118.5 972,213" fill="none" stroke="#000" stroke-width="1.2" />
<polyline points="1016,75 1016,253 978,253" fill="none" stroke="#000" stroke-width="1.2" />
<polyline points="1066,75 1066,253 1017,282" fill="none" stroke="#000" stroke-width="1.2" />
<polyline points="1123.5,75 1123.5,310 1076,310" fill="none" stroke="#000" stroke-width="1.2" />
<line x1="1125" y1="117" x2="1139.5" y2="340" stroke="#000" stroke-width="1.3" stroke-dasharray="38 5 3 5"/>
<line x1="1143.9" y1="408" x2="1162.5" y2="694" stroke="#000" stroke-width="1.3" stroke-dasharray="38 5 3 5"/>
<circle cx="1162.7" cy="696.5" r="3" fill="#000" stroke="#000" stroke-width="0"/>
<line x1="205.5" y1="495" x2="205.5" y2="795" stroke="#000" stroke-width="1.2" />
<circle cx="205.5" cy="495" r="1.4" fill="#000" stroke="#000" stroke-width="0"/>
<line x1="295" y1="556" x2="295" y2="795" stroke="#000" stroke-width="1.2" />
<line x1="366.7" y1="640" x2="366.7" y2="795" stroke="#000" stroke-width="1.2" />
<circle cx="366.7" cy="640" r="1.3" fill="#000" stroke="#000" stroke-width="0"/>
<line x1="471.7" y1="667" x2="471.7" y2="793" stroke="#000" stroke-width="1.2" />
<circle cx="471.7" cy="667" r="1.3" fill="#000" stroke="#000" stroke-width="0"/>
<line x1="522" y1="662" x2="522" y2="795" stroke="#000" stroke-width="1.2" />
<line x1="579" y1="592" x2="579" y2="795" stroke="#000" stroke-width="1.2" />
<circle cx="579" cy="592" r="1.5" fill="#000" stroke="#000" stroke-width="0"/>
<polyline points="666.7,703 666.7,771.7 646.7,771.7 646.7,795" fill="none" stroke="#000" stroke-width="1.2" />
<circle cx="666.7" cy="703" r="1.3" fill="#000" stroke="#000" stroke-width="0"/>
<polyline points="708,664.5 686.7,664.5 686.7,813 702,813" fill="none" stroke="#000" stroke-width="1.2" />
<line x1="770" y1="760" x2="770" y2="795" stroke="#000" stroke-width="1.2" />
<circle cx="770" cy="760" r="1.3" fill="#000" stroke="#000" stroke-width="0"/>
<line x1="817.4" y1="752" x2="817.4" y2="795" stroke="#000" stroke-width="1.2" />
<line x1="881" y1="752" x2="881" y2="795" stroke="#000" stroke-width="1.2" />
<polyline points="912,699 944.3,699 944.3,795" fill="none" stroke="#000" stroke-width="1.2" />
<polyline points="938,666.7 1007.3,666.7 1007.3,795" fill="none" stroke="#000" stroke-width="1.2" />
<line x1="1110.5" y1="496" x2="1110.5" y2="795" stroke="#000" stroke-width="1.2" />
<circle cx="1110.5" cy="496" r="1.5" fill="#000" stroke="#000" stroke-width="0"/>
<circle cx="332.7" cy="51.3" r="19" fill="#fff" stroke="#222" stroke-width="1.7"/>
<text class="lb" x="332.7" y="61.6" transform="translate(332.7 0) scale(0.79 1) translate(-332.7 0)">V</text>
<circle cx="387" cy="51.7" r="19" fill="#fff" stroke="#222" stroke-width="1.7"/>
<text class="lb" x="387" y="62" transform="translate(387 0) scale(0.79 1) translate(-387 0)">W</text>
<circle cx="578.3" cy="53.5" r="19" fill="#fff" stroke="#222" stroke-width="1.7"/>
<text class="lb" x="578.3" y="63.8" transform="translate(578.3 0) scale(0.79 1) translate(-578.3 0)">N</text>
<circle cx="633" cy="54.3" r="19" fill="#fff" stroke="#222" stroke-width="1.7"/>
<text class="lb" x="633" y="64.6" transform="translate(633 0) scale(0.79 1) translate(-633 0)">O</text>
<circle cx="692.3" cy="54.3" r="19" fill="#fff" stroke="#222" stroke-width="1.7"/>
<text class="lb" x="692.3" y="64.6" transform="translate(692.3 0) scale(0.79 1) translate(-692.3 0)">P</text>
<circle cx="810.7" cy="56.3" r="19" fill="#fff" stroke="#222" stroke-width="1.7"/>
<text class="lb" x="810.7" y="66.6" transform="translate(810.7 0) scale(0.79 1) translate(-810.7 0)">Q</text>
<circle cx="961.7" cy="56.3" r="19" fill="#fff" stroke="#222" stroke-width="1.7"/>
<text class="lb" x="961.7" y="66.6" transform="translate(961.7 0) scale(0.79 1) translate(-961.7 0)">R</text>
<circle cx="1015" cy="56.7" r="19" fill="#fff" stroke="#222" stroke-width="1.7"/>
<text class="lb" x="1015" y="67" transform="translate(1015 0) scale(0.79 1) translate(-1015 0)">S</text>
<circle cx="1065.7" cy="56.3" r="19" fill="#fff" stroke="#222" stroke-width="1.7"/>
<text class="lb" x="1065.7" y="66.6" transform="translate(1065.7 0) scale(0.79 1) translate(-1065.7 0)">T</text>
<circle cx="1122.7" cy="56.3" r="19" fill="#fff" stroke="#222" stroke-width="1.7"/>
<text class="lb" x="1122.7" y="66.6" transform="translate(1122.7 0) scale(0.79 1) translate(-1122.7 0)">U</text>
<circle cx="205.3" cy="814.5" r="19" fill="#fff" stroke="#222" stroke-width="1.7"/>
<text class="lb" x="205.3" y="824.8" transform="translate(205.3 0) scale(0.79 1) translate(-205.3 0)">A</text>
<circle cx="294.3" cy="813.3" r="19" fill="#fff" stroke="#222" stroke-width="1.7"/>
<text class="lb" x="294.3" y="823.6" transform="translate(294.3 0) scale(0.79 1) translate(-294.3 0)">B</text>
<circle cx="364.3" cy="814" r="19" fill="#fff" stroke="#222" stroke-width="1.7"/>
<text class="lb" x="364.3" y="824.3" transform="translate(364.3 0) scale(0.79 1) translate(-364.3 0)">C</text>
<circle cx="522" cy="813" r="19" fill="#fff" stroke="#222" stroke-width="1.7"/>
<text class="lb" x="522" y="823.3" transform="translate(522 0) scale(0.79 1) translate(-522 0)">D</text>
<circle cx="579" cy="813.3" r="19" fill="#fff" stroke="#222" stroke-width="1.7"/>
<text class="lb" x="579" y="823.6" transform="translate(579 0) scale(0.79 1) translate(-579 0)">E</text>
<circle cx="647.7" cy="813.3" r="19" fill="#fff" stroke="#222" stroke-width="1.7"/>
<text class="lb" x="647.7" y="823.6" transform="translate(647.7 0) scale(0.79 1) translate(-647.7 0)">F</text>
<circle cx="720" cy="812.7" r="19" fill="#fff" stroke="#222" stroke-width="1.7"/>
<text class="lb" x="720" y="823" transform="translate(720 0) scale(0.79 1) translate(-720 0)">G</text>
<circle cx="770" cy="813.3" r="19" fill="#fff" stroke="#222" stroke-width="1.7"/>
<text class="lb" x="770" y="823.6" transform="translate(770 0) scale(0.79 1) translate(-770 0)">H</text>
<circle cx="817.7" cy="812.7" r="19" fill="#fff" stroke="#222" stroke-width="1.7"/>
<text class="lb" x="817.7" y="823" transform="translate(817.7 0) scale(0.79 1) translate(-817.7 0)">I</text>
<circle cx="881" cy="812.5" r="19" fill="#fff" stroke="#222" stroke-width="1.7"/>
<text class="lb" x="881" y="822.8" transform="translate(881 0) scale(0.79 1) translate(-881 0)">J</text>
<circle cx="944.3" cy="812.3" r="19" fill="#fff" stroke="#222" stroke-width="1.7"/>
<text class="lb" x="944.3" y="822.6" transform="translate(944.3 0) scale(0.79 1) translate(-944.3 0)">K</text>
<circle cx="1007.3" cy="811.7" r="19" fill="#fff" stroke="#222" stroke-width="1.7"/>
<text class="lb" x="1007.3" y="822" transform="translate(1007.3 0) scale(0.79 1) translate(-1007.3 0)">L</text>
<circle cx="1110.7" cy="812.7" r="19" fill="#fff" stroke="#222" stroke-width="1.7"/>
<text class="lb" x="1110.7" y="823" transform="translate(1110.7 0) scale(0.79 1) translate(-1110.7 0)">M</text>
<line x1="812.9" y1="801.3" x2="822.5" y2="801.3" stroke="#000" stroke-width="4.7" />
<line x1="812.9" y1="821.5" x2="822.5" y2="821.5" stroke="#000" stroke-width="4.7" />
<circle cx="471.7" cy="811.7" r="19" fill="#fff" stroke="#222" stroke-width="1.7"/>
<text class="lb" x="468" y="821.8" transform="translate(468 0) scale(0.79 1) translate(-468 0)">C</text>
<line x1="480.5" y1="800" x2="480" y2="807" stroke="#000" stroke-width="2.5" />
<text class="cap" x="633" y="875" word-spacing="5">Fig. 84.</text>
</svg>
</body></html>
